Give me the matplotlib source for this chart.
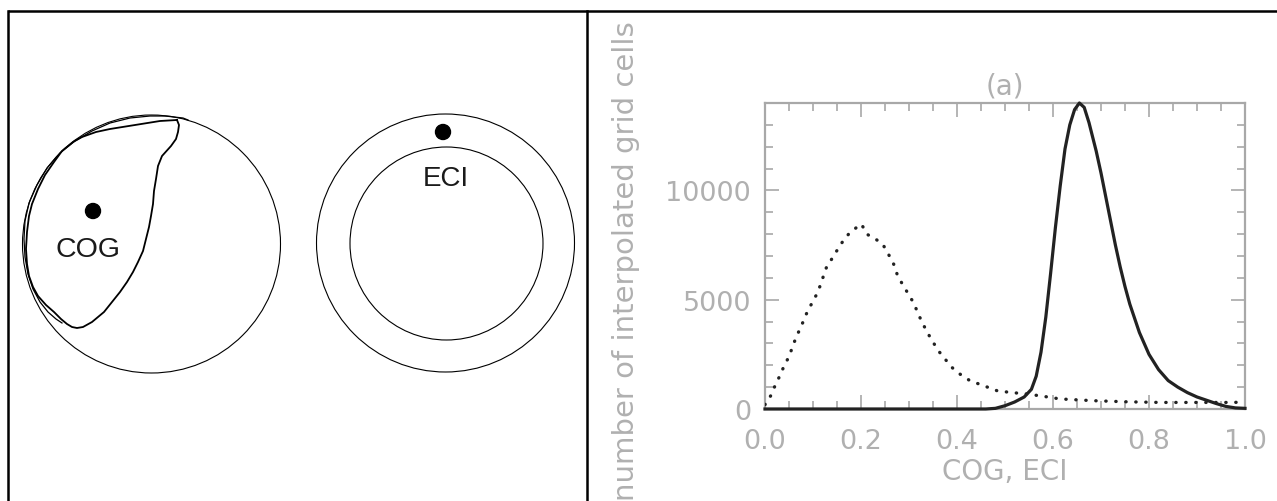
import matplotlib
matplotlib.use("Agg")
import matplotlib.pyplot as plt
from matplotlib.patches import Circle
import numpy as np

# ---------------- data (histogram panel) ----------------
eci_x = [0.0, 0.40, 0.46, 0.48, 0.50, 0.52, 0.54, 0.555, 0.565, 0.575, 0.585, 0.595,
         0.605, 0.615, 0.625, 0.635, 0.645, 0.655, 0.665, 0.675, 0.69, 0.70, 0.71,
         0.72, 0.73, 0.74, 0.75, 0.76, 0.78, 0.80, 0.82, 0.84, 0.86, 0.88, 0.90,
         0.92, 0.94, 0.96, 0.98, 1.0]
eci_y = [0, 0, 0, 30, 150, 320, 550, 900, 1500, 2600, 4200, 6200,
         8300, 10200, 11900, 13000, 13700, 14000, 13800, 13100, 11800, 10800, 9700,
         8600, 7500, 6500, 5600, 4800, 3500, 2500, 1800, 1300, 1000, 750, 550,
         400, 250, 120, 50, 30]

cog_x = [0.0, 0.012, 0.021, 0.031, 0.04, 0.051, 0.058, 0.067, 0.076, 0.085, 0.095,
         0.106, 0.115, 0.122, 0.128, 0.139, 0.151, 0.163, 0.176, 0.191, 0.201,
         0.212, 0.228, 0.245, 0.257, 0.268, 0.275, 0.285, 0.309, 0.327, 0.344,
         0.361, 0.389, 0.406, 0.427, 0.455, 0.483, 0.51, 0.545, 0.58, 0.615,
         0.684, 0.753, 0.823, 0.892, 0.975, 1.0]
cog_y = [200, 610, 1070, 1525, 1980, 2440, 2900, 3385, 3810, 4300, 4730,
         5180, 5640, 6100, 6480, 6860, 7290, 7700, 8050, 8310, 8460,
         8000, 7810, 7550, 7090, 6630, 6180, 5760, 4880, 3970, 3280,
         2670, 1910, 1600, 1295, 1070, 840, 760, 690, 580, 460,
         380, 330, 300, 300, 300, 320]

x_ticks = [0.0, 0.2, 0.4, 0.6, 0.8, 1.0]
x_ticklabels = ["0.0", "0.2", "0.4", "0.6", "0.8", "1.0"]
y_ticks = [0, 5000, 10000]
y_ticklabels = ["0", "5000", "10000"]
panel_title = "(a)"
x_label = "COG, ECI"
y_label = "number of interpolated grid cells"

# ---------------- schematic (left panel), pixel geometry ----------------
cog_loop_x = [177, 160, 135, 110, 96, 82, 73, 62, 54, 45, 38, 32, 29, 27, 26, 27, 29, 33,
              38, 46, 54, 61, 67, 72, 77, 83, 92, 104, 112, 120, 127, 133, 138, 143,
              146, 149, 151, 153, 154, 156, 158, 162, 171, 176, 178, 179, 177]
cog_loop_y = [121, 122, 126, 130, 133, 138, 143, 152, 163, 176, 190, 205, 217, 233, 250,
              265, 277, 288, 297, 306, 313, 320, 325, 328, 329, 328, 323, 313, 303, 293,
              283, 273, 263, 252, 240, 228, 217, 205, 192, 180, 167, 157, 147, 140, 133,
              126, 121]
cog_outer_x = [188, 183, 165, 150, 130, 110, 92, 75, 60, 47, 37, 29, 25, 24, 25, 28, 33,
               40, 48, 56, 62]
cog_outer_y = [121, 119, 117, 117, 119, 124, 132, 142, 154, 169, 186, 204, 222, 240,
               258, 275, 290, 303, 313, 320, 324]

W, H = 1277, 502
fig = plt.figure(figsize=(W / 100, H / 100), dpi=100)
fig.patch.set_facecolor("white")

ov = fig.add_axes([0, 0, 1, 1])
ov.set_xlim(0, W)
ov.set_ylim(H, 0)
ov.axis("off")

# frame
ov.plot([8, W + 5], [12, 12], color="black", lw=1.8, solid_capstyle="butt")
ov.plot([8, 8], [12, H + 5], color="black", lw=1.8)
ov.plot([587, 587], [12, H + 5], color="black", lw=1.8)

# COG schematic
ov.add_patch(Circle((151.5, 245), 129, fill=False, ec="black", lw=0.8))
ov.plot(cog_loop_x, cog_loop_y, color="black", lw=1.3)
ov.plot(cog_outer_x, cog_outer_y, color="black", lw=0.9)
ov.add_patch(Circle((93, 212), 7.5, color="black"))
ov.text(88, 250, "COG", ha="center", va="center", fontsize=20.5,
        family="Liberation Sans", color="#1a1a1a")

# ECI schematic
ov.add_patch(Circle((445.5, 244), 129, fill=False, ec="black", lw=0.8))
ov.add_patch(Circle((446.5, 244.5), 96.5, fill=False, ec="black", lw=0.8))
ov.add_patch(Circle((443, 133), 7.5, color="black"))
ov.text(446, 179, "ECI", ha="center", va="center", fontsize=20,
        family="Liberation Sans", color="#1a1a1a")

# ---------------- histogram panel ----------------
gray = "#a8a8a8"
tgray = "#b0b0b0"
fam = "DejaVu Sans"
ax = fig.add_axes([765 / W, (H - 410) / H, 480 / W, 306 / H])
ax.set_facecolor("none")
ax.set_xlim(0, 1)
ax.set_ylim(0, 14000)
ax.plot(cog_x, cog_y, color="#222222", lw=2.4, linestyle=(0, (0.1, 2.9)),
        dash_capstyle="round", zorder=3)
ax.plot(eci_x, eci_y, color="#222222", lw=2.3, zorder=4, clip_on=False)

for s in ax.spines.values():
    s.set_color(gray)
    s.set_linewidth(1.6)

ax.set_xticks(x_ticks)
ax.set_xticklabels(x_ticklabels)
ax.set_yticks(y_ticks)
ax.set_yticklabels(y_ticklabels)
ax.set_xticks(np.arange(0, 1.0001, 0.05), minor=True)
ax.set_yticks(np.arange(0, 14001, 1000), minor=True)
ax.tick_params(which="both", direction="in", top=True, right=True, color=gray,
               labelcolor=tgray, width=1.2)
ax.tick_params(which="major", length=10)
ax.tick_params(which="minor", length=6)
ax.tick_params(axis="x", which="major", pad=14, labelsize=19.5)
ax.tick_params(axis="y", which="major", pad=10, labelsize=19.5)
for lab in ax.get_xticklabels() + ax.get_yticklabels():
    lab.set_family(fam)

ax.text(0.5, (410 - 86) / 306, panel_title, transform=ax.transAxes, ha="center",
        va="center", fontsize=20, family=fam, color=tgray)
ax.text(0.5, (410 - 472) / 306, x_label, transform=ax.transAxes, ha="center",
        va="center", fontsize=20, family=fam, color=tgray)
ax.text((626 - 765) / 480, (410 - 261) / 306, y_label, transform=ax.transAxes,
        ha="center", va="center", rotation=90, fontsize=21, family=fam, color=tgray)

fig.savefig("out.png", dpi=100, facecolor="white")
